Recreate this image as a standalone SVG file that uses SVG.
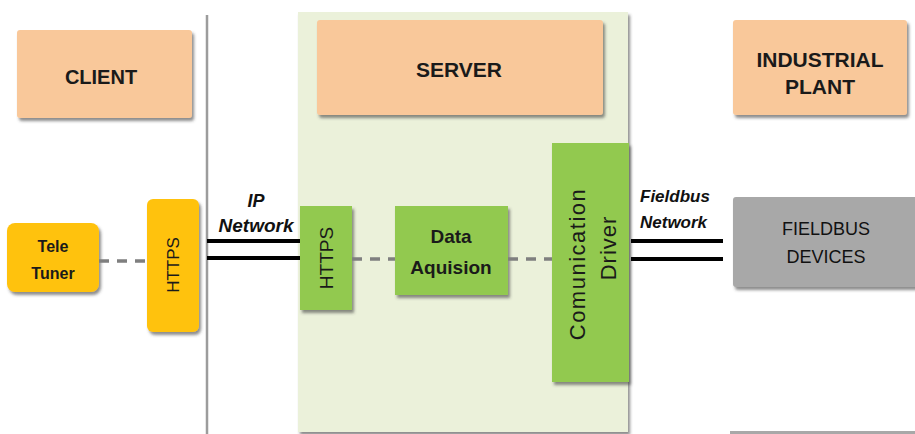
<svg xmlns="http://www.w3.org/2000/svg" width="915" height="434" viewBox="0 0 915 434">
<defs>
<filter id="sh" x="-10%" y="-10%" width="130%" height="130%">
<feDropShadow dx="2" dy="3" stdDeviation="1.5" flood-color="#404040" flood-opacity="0.6"/>
</filter>
<style>
.peach{fill:#F9C89A;filter:url(#sh)}
.yellow{fill:#FFC20E;filter:url(#sh)}
.green{fill:#92C94F;filter:url(#sh)}
.gray{fill:#A8A8A8;filter:url(#sh)}
.title{font-family:"Liberation Sans",Arial,sans-serif;font-weight:bold;fill:#1a1a1a;text-anchor:middle}
.lbl{font-family:"Liberation Sans",Arial,sans-serif;fill:#1a1a1a;text-anchor:middle}
.net{font-family:"Liberation Sans",Arial,sans-serif;font-weight:bold;font-style:italic;fill:#111;font-size:17px}
.dash{stroke:#7F7F7F;stroke-width:3.5;stroke-dasharray:10 8;fill:none}
.bus{stroke:#000;stroke-width:4;fill:none}
</style>
</defs>
<rect width="915" height="434" fill="#FFFFFF"/>
<line x1="207" y1="15" x2="207" y2="434" stroke="#9C9C9C" stroke-width="2.5"/>
<g id="server-area">
<rect x="298" y="12" width="330" height="420" fill="#EBF1DA" filter="url(#sh)"/>
</g>
<g id="client">
<rect class="peach" x="17" y="30" width="175" height="88" rx="3"/>
<text class="title" x="101" y="84" font-size="20">CLIENT</text>
</g>
<g id="server">
<rect class="peach" x="317" y="20" width="286" height="95" rx="3"/>
<text class="title" x="459" y="77" font-size="21">SERVER</text>
</g>
<g id="industrial-plant">
<rect class="peach" x="733" y="20" width="174" height="95" rx="3"/>
<text class="title" x="820" y="67" font-size="21">INDUSTRIAL</text>
<text class="title" x="820" y="94" font-size="21">PLANT</text>
</g>
<g id="tele-tuner">
<rect class="yellow" x="7" y="223" width="92" height="69" rx="8"/>
<text class="title" x="53" y="252" font-size="16">Tele</text>
<text class="title" x="53" y="279" font-size="16">Tuner</text>
</g>
<g id="https-client">
<rect class="yellow" x="147" y="199" width="52" height="133" rx="6"/>
<text class="lbl" transform="translate(179 265) rotate(-90)" font-size="17">HTTPS</text>
</g>
<g id="https-server">
<rect class="green" x="300" y="206" width="52" height="104"/>
<text class="lbl" transform="translate(333 258) rotate(-90)" font-size="19">HTTPS</text>
</g>
<g id="data-aquision">
<rect class="green" x="395" y="206" width="113" height="89"/>
<text class="title" x="451" y="243" font-size="19">Data</text>
<text class="title" x="451" y="274" font-size="19">Aquision</text>
</g>
<g id="communication-driver">
<rect class="green" x="552" y="143" width="77" height="239"/>
<text class="lbl" transform="translate(585 264) rotate(-90)" font-size="22" letter-spacing="1.5">Comunication</text>
<text class="lbl" transform="translate(616 248) rotate(-90)" font-size="22" letter-spacing="1">Driver</text>
</g>
<g id="fieldbus-devices">
<rect class="gray" x="733" y="197" width="190" height="90" rx="3"/>
<text class="lbl" x="826" y="235" font-size="18" style="fill:#111">FIELDBUS</text>
<text class="lbl" x="826" y="263" font-size="18" style="fill:#111">DEVICES</text>
</g>
<rect x="730" y="431" width="190" height="6" fill="#A8A8A8"/>
<g id="connectors">
<line class="dash" x1="99" y1="261" x2="147" y2="261"/>
<line class="dash" x1="352" y1="259" x2="395" y2="259"/>
<line class="dash" x1="508" y1="259" x2="552" y2="259"/>
<line class="bus" x1="207" y1="241" x2="300" y2="241"/>
<line class="bus" x1="207" y1="258" x2="300" y2="258"/>
<line class="bus" x1="631" y1="241" x2="723" y2="241"/>
<line class="bus" x1="631" y1="259" x2="723" y2="259"/>
<text class="net" x="256" y="207" text-anchor="middle" font-size="18" style="font-size:18px">IP</text>
<text class="net" x="256" y="232" text-anchor="middle" style="font-size:19px">Network</text>
<text class="net" x="640" y="202">Fieldbus</text>
<text class="net" x="640" y="228">Network</text>
</g>
</svg>
